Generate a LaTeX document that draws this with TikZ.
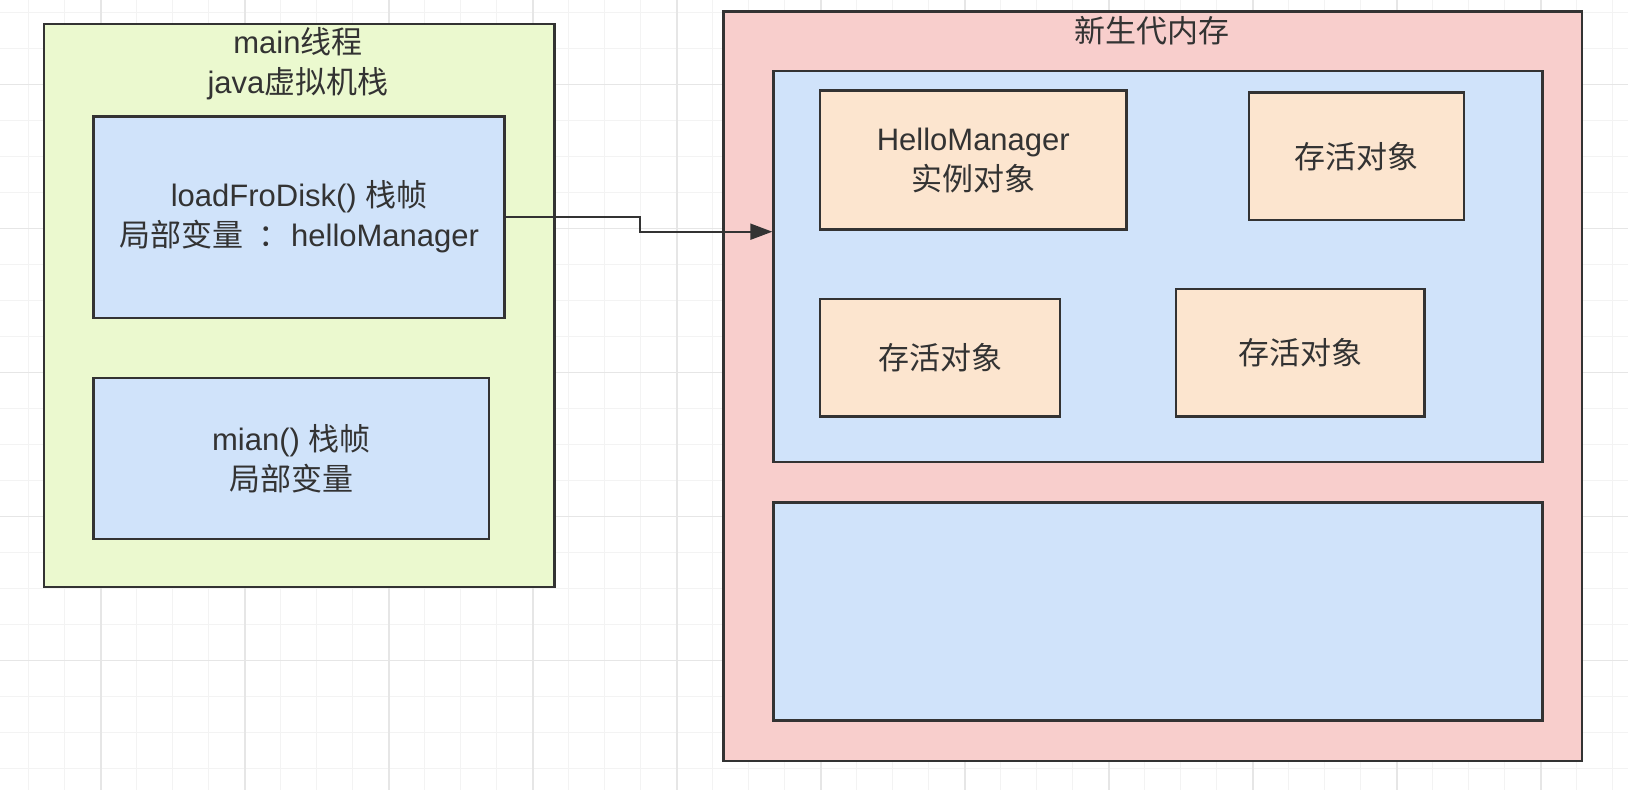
\documentclass[tikz,border=0pt]{standalone}
\usepackage{fontspec}
\setmainfont{Liberation Sans}
\newfontfamily\cjk{Noto Sans CJK SC}
\usetikzlibrary{arrows.meta}
\definecolor{gridminor}{RGB}{243,243,243}
\definecolor{gridmajor}{RGB}{230,230,230}
\definecolor{bordercol}{RGB}{51,51,51}
\definecolor{textcol}{RGB}{51,51,51}
\definecolor{greenfill}{RGB}{235,249,207}
\definecolor{bluefill}{RGB}{208,227,250}
\definecolor{pinkfill}{RGB}{248,206,204}
\definecolor{orangefill}{RGB}{252,229,207}
\begin{document}
\begin{tikzpicture}[x=1pt,y=-1pt,
  box/.style={draw=bordercol, line width=2.4pt, anchor=north west, inner sep=0pt,
    align=center, text=textcol, font=\fontsize{31}{40}\selectfont},
  titletext/.style={inner sep=0pt, align=center, text=textcol, font=\fontsize{31}{40}\selectfont},
  link/.style={draw=bordercol, line width=2pt, -{Triangle[length=22pt,width=16pt]}}
]
\useasboundingbox (0,0) rectangle (1628,790);
\fill[white] (0,0) rectangle (1628,790);
% grid
\foreach \k in {0,...,44} {
  \draw[gridminor, line width=1pt] ({28.9+36*\k},0) -- ({28.9+36*\k},790);
}
\foreach \k in {0,...,21} {
  \draw[gridminor, line width=1pt] (0,{12.7+36*\k}) -- (1628,{12.7+36*\k});
}
\foreach \k in {0,...,10} {
  \draw[gridmajor, line width=1.2pt] ({100.9+144*\k},0) -- ({100.9+144*\k},790);
}
\foreach \k in {0,...,4} {
  \draw[gridmajor, line width=1.2pt] (0,{84.7+144*\k}) -- (1628,{84.7+144*\k});
}
% left: thread stack
\node[box, fill=greenfill, minimum width=510.7pt, minimum height=562.7pt] (jvm) at (42.6,22.8) {};
\node[titletext] (jvmtitle) at (298,64) {main{\cjk 线程}\\java{\cjk 虚拟机栈}};
\node[box, fill=bluefill, minimum width=411pt, minimum height=201.4pt] (frame1) at (92.4,115.2)
  {loadFroDisk() {\cjk 栈帧}\\{\cjk 局部变量}\kern15pt{\cjk ：}\kern2pt helloManager};
\node[box, fill=bluefill, minimum width=395.5pt, minimum height=160.9pt] (frame2) at (92.4,376.8)
  {mian() {\cjk 栈帧}\\{\cjk 局部变量}};
% right: young generation
\node[box, fill=pinkfill, minimum width=858.5pt, minimum height=749.4pt] (young) at (722.4,10.4) {};
\node[titletext] (youngtitle) at (1152,31.1) {\cjk 新生代内存};
\node[box, fill=bluefill, minimum width=769.1pt, minimum height=391.4pt] (eden) at (772.3,69.5) {};
\node[box, fill=bluefill, minimum width=769.1pt, minimum height=217.9pt] (survivor) at (772.3,501.4) {};
\node[box, fill=orangefill, minimum width=306.2pt, minimum height=139.1pt] (hello) at (819,89.3)
  {HelloManager\\{\cjk 实例对象}};
\node[box, fill=orangefill, minimum width=214.8pt, minimum height=127.7pt] (liveb) at (1247.7,91.3)
  {\cjk 存活对象};
\node[box, fill=orangefill, minimum width=239.8pt, minimum height=117.3pt] (livec) at (819,297.9)
  {\cjk 存活对象};
\node[box, fill=orangefill, minimum width=248.1pt, minimum height=127.7pt] (lived) at (1175,287.5)
  {\cjk 存活对象};
% connector
\coordinate (bend) at (640,231.7);
\draw[link] (frame1.east) -- (frame1.east -| bend) -- (bend) -- (bend -| eden.west);
\end{tikzpicture}
\end{document}
